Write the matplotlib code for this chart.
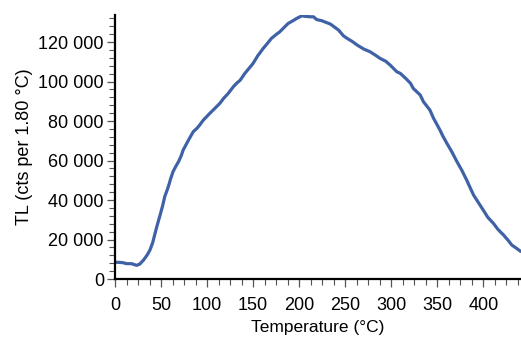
import matplotlib
matplotlib.use("Agg")
import matplotlib.pyplot as plt
from matplotlib.ticker import MultipleLocator, FuncFormatter

temperature = [0, 5, 9, 12, 18, 23.5, 27, 31, 35, 38, 41, 43.5, 46, 49, 52, 54, 57, 59, 60,
               63, 66, 69, 72, 74, 76, 80, 85, 89, 92, 96, 103, 108, 114, 118, 123, 128.6, 132,
               136, 141, 147, 150, 155, 161, 165, 170, 175, 179, 185, 188, 194, 197.5,
               203, 207, 212, 215.6, 219, 224.6, 234, 243, 248, 252, 258, 263, 270, 277, 283, 288,
               294, 299, 306, 310, 316, 321, 324, 331.5, 335, 342, 346, 350, 353, 356, 360.5,
               366, 371, 377, 382, 386, 389.5, 395, 400, 405, 411, 416, 422, 427, 431, 436, 440]
tl_counts = [8500, 8400, 8250, 7800, 7750, 6900, 7600, 9600, 12200, 14700, 18500, 23100, 27500,
             32400, 37600, 41700, 45500, 48400, 50100, 54300, 57000, 59400, 62500, 65300, 67000,
             70500, 74600, 76300, 78000, 80500, 83900, 86200, 89000, 91500, 94000, 97400, 99100,
             100700, 104100, 107500, 109200, 113000, 116800, 119000, 121900, 123800, 125200,
             128000, 129400, 131000, 132000, 133300, 133000, 132800, 132800, 131400, 130800,
             129100, 126000, 123200, 121900, 120200, 118500, 116500, 115100, 113300,
             111700, 110300, 108300, 105000, 104100, 101500, 99100, 96500, 93200, 89800, 85600,
             81400, 78000, 75400, 72500, 68700, 64300, 59800, 54800, 50100, 46000, 42500, 38500,
             34900, 31200, 28200, 25100, 22300, 19600, 17200, 15600, 14200]

x_major = 50
x_minor = 12.5
y_major = 20000
y_minor = 4000

plt.rcParams['font.family'] = ['Liberation Sans', 'DejaVu Sans']

fig = plt.figure(figsize=(5.21, 3.38), dpi=100)
ax = fig.add_axes([115/521, (338-279)/338, 406/521, 264/338])

ax.plot(temperature, tl_counts, color='#3F62A7', lw=2.3, solid_joinstyle='round')

ax.set_xlim(0, 441)
ax.set_ylim(0, 133700)

for s in ['top', 'right']:
    ax.spines[s].set_visible(False)
for s in ['left', 'bottom']:
    ax.spines[s].set_linewidth(1.6)
    ax.spines[s].set_color('black')

ax.xaxis.set_major_locator(MultipleLocator(x_major))
ax.xaxis.set_minor_locator(MultipleLocator(x_minor))
ax.yaxis.set_major_locator(MultipleLocator(y_major))
ax.yaxis.set_minor_locator(MultipleLocator(y_minor))
ax.yaxis.set_major_formatter(FuncFormatter(lambda v, p: f"{int(v):,}".replace(",", " ")))

ax.tick_params(which='major', length=6, width=0.9, color='#555555', labelsize=13, pad=2)
ax.tick_params(which='minor', length=4, width=0.8, color='#555555')
ax.tick_params(axis='x', which='major', pad=7)

ax.set_xlabel('Temperature (°C)', fontsize=12.5, labelpad=4)
ax.set_ylabel('TL (cts per 1.80 °C)', fontsize=13, labelpad=4)

fig.savefig('out.png', dpi=100)
